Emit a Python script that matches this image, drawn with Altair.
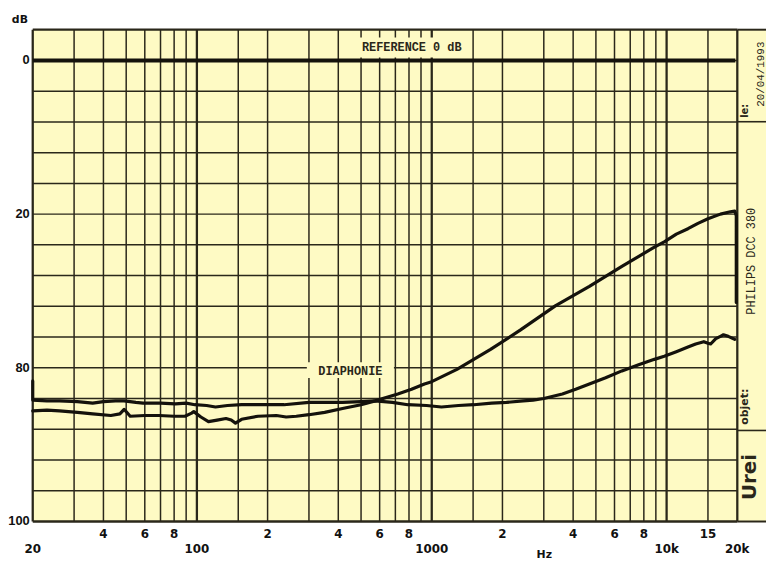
import altair as alt
import pandas as pd

# ---------------- data ----------------
grid_freqs = [20, 30, 40, 50, 60, 70, 80, 90, 100, 150, 200, 300, 400, 500, 600, 700,
              800, 900, 1000, 1500, 2000, 3000, 4000, 5000, 6000, 7000, 8000, 9000,
              10000, 15000, 20000]
grid_levels = [-4, 0, 4, 8, 12, 16, 20, 24, 28, 32, 36, 40, 44, 48, 52, 56, 60]
decade_freqs = [100, 1000, 10000]

minor_label_freqs = [40, 60, 80, 200, 400, 600, 800, 2000, 4000, 6000, 8000, 15000]
minor_label_text = ["4", "6", "8", "2", "4", "6", "8", "2", "4", "6", "8", "15"]
major_label_freqs = [20, 100, 1000, 10000, 20000]
major_label_text = ["20", "100", "1000", "10k", "20k"]
y_label_values = [0, 20, 40, 60]
y_label_text = ["0", "20", "80", "100"]
reference_level = [0]

curve_a_freq = [20, 20, 23, 26, 31, 36, 40, 45, 49, 55, 59, 70, 81, 90, 98, 110, 120, 135,
                155, 190, 235, 300, 417, 500, 574, 680, 790, 950, 1100, 1300, 1510, 1800,
                2080, 2450, 2700, 3000, 3600, 4100, 4690, 5500, 6450, 7600, 8870, 9770,
                11000, 12330, 13300, 14400, 15000, 15400, 16200, 16950, 17460, 18300, 19500]
curve_a_db = [41.7, 44.2, 44.3, 44.3, 44.4, 44.6, 44.4, 44.3, 44.3, 44.5, 44.6, 44.6, 44.7,
              44.6, 44.8, 44.9, 45.1, 44.9, 44.8, 44.8, 44.8, 44.5, 44.5, 44.4, 44.3, 44.5,
              44.8, 44.9, 45.1, 44.9, 44.8, 44.6, 44.5, 44.3, 44.2, 44.0, 43.4, 42.8, 42.1,
              41.3, 40.4, 39.6, 38.9, 38.5, 37.9, 37.3, 36.9, 36.6, 36.8, 36.9, 36.2, 35.9,
              35.7, 35.9, 36.3]

curve_b_freq = [20, 23, 26, 31, 36, 43, 47, 49, 52, 60, 69, 80, 89, 95, 97, 104, 112, 122,
                133, 140, 146, 155, 182, 218, 240, 265, 300, 350, 417, 500, 574, 650, 717,
                820, 931, 1000, 1280, 1780, 2380, 3370, 4690, 6450, 8870, 9770, 11000, 12330,
                13600, 15000, 16950, 18690, 19500, 19800, 19800]
curve_b_db = [45.6, 45.5, 45.6, 45.8, 46.0, 46.2, 46.0, 45.4, 46.3, 46.2, 46.2, 46.3, 46.3,
              45.9, 45.7, 46.4, 47.0, 46.8, 46.6, 46.8, 47.2, 46.7, 46.3, 46.2, 46.4, 46.3,
              46.1, 45.8, 45.3, 44.8, 44.3, 43.8, 43.4, 42.8, 42.1, 41.8, 40.2, 37.6, 35.1,
              31.9, 29.4, 26.8, 24.3, 23.6, 22.6, 21.9, 21.2, 20.6, 20.0, 19.7, 19.6, 20.2, 31.5]

# ---------------- styling ----------------
PAPER = "#fefac4"
INK = "#2a271a"
PEN = "#14120c"
W, H = 712, 497
SANS = "DejaVu Sans"
NARROW = "Liberation Sans"
MONO = "Liberation Mono"

x_scale = alt.Scale(type="log", domain=[20, 20000], nice=False)
y_scale = alt.Scale(domain=[-4, 60], reverse=True, nice=False, zero=False)

one = pd.DataFrame({"k": [0]})
grid_x_df = pd.DataFrame({"f": grid_freqs})
grid_y_df = pd.DataFrame({"v": grid_levels})
ref_df = pd.DataFrame({"v": reference_level})

rows = []
for i, (f, v) in enumerate(zip(curve_a_freq, curve_a_db)):
    rows.append({"f": f, "v": v, "s": "A", "i": i})
for i, (f, v) in enumerate(zip(curve_b_freq, curve_b_db)):
    rows.append({"f": f, "v": v, "s": "B", "i": i})
curves_df = pd.DataFrame(rows)

minor_df = pd.DataFrame({"f": minor_label_freqs, "t": minor_label_text})
major_df = pd.DataFrame({"f": major_label_freqs, "t": major_label_text})
ylab_df = pd.DataFrame({"v": y_label_values, "t": y_label_text})

decade_test = " || ".join(f"datum.f == {d}" for d in decade_freqs)
edge_test = "datum.f == 20 || datum.f == 20000"

# right-hand side panel background
panel_bg = alt.Chart(one).mark_rect(fill=PAPER).encode(
    x=alt.value(W), x2=alt.value(W + 29), y=alt.value(0), y2=alt.value(H)
)

vgrid = alt.Chart(grid_x_df).mark_rule(color=INK).encode(
    x=alt.X("f:Q", scale=x_scale, axis=None),
    y=alt.value(0), y2=alt.value(H),
    strokeWidth=alt.condition(decade_test + " || " + edge_test, alt.value(2.3), alt.value(1.5)),
)

hgrid = alt.Chart(grid_y_df).mark_rule(color=INK).encode(
    y=alt.Y("v:Q", scale=y_scale, axis=None),
    x=alt.value(0), x2=alt.value(W),
    strokeWidth=alt.condition("datum.v == -4 || datum.v == 60", alt.value(2.3), alt.value(1.5)),
)

# panel frame lines
panel_lines = alt.layer(
    alt.Chart(one).mark_rule(color=INK, strokeWidth=2).encode(
        x=alt.value(W), x2=alt.value(W + 29), y=alt.value(0)),
    alt.Chart(one).mark_rule(color=INK, strokeWidth=2).encode(
        x=alt.value(W), x2=alt.value(W + 29), y=alt.value(H)),
    alt.Chart(one).mark_rule(color=INK, strokeWidth=1.6).encode(
        x=alt.value(W), x2=alt.value(W + 29), y=alt.value(93)),
    alt.Chart(one).mark_rule(color=INK, strokeWidth=1.6).encode(
        x=alt.value(W), x2=alt.value(W + 29), y=alt.value(405)),
)

ref_line = alt.Chart(ref_df).mark_rule(color=PEN, strokeWidth=4).encode(
    y=alt.Y("v:Q", scale=y_scale, axis=None), x=alt.value(0), x2=alt.value(W - 2)
)

# label boxes hiding the grid
ref_box = alt.Chart(one).mark_rect(fill=PAPER).encode(
    x=alt.value(324), x2=alt.value(441), y=alt.value(8), y2=alt.value(28))
ref_text = alt.Chart(one).mark_text(font=MONO, fontSize=12, fontWeight="bold", color=INK).encode(
    x=alt.value(383), y=alt.value(18), text=alt.value("REFERENCE 0 dB"))
dia_box = alt.Chart(one).mark_rect(fill=PAPER).encode(
    x=alt.value(277), x2=alt.value(365), y=alt.value(336), y2=alt.value(352))
dia_text = alt.Chart(one).mark_text(font=MONO, fontSize=12, fontWeight="bold", color=INK).encode(
    x=alt.value(321), y=alt.value(345), text=alt.value("DIAPHONIE"))

curves = alt.Chart(curves_df).mark_line(color=PEN, strokeWidth=3.2, strokeJoin="round",
                                         strokeCap="round").encode(
    x=alt.X("f:Q", scale=x_scale, axis=None),
    y=alt.Y("v:Q", scale=y_scale, axis=None),
    detail="s:N",
    order="i:Q",
)

minor_labels = alt.Chart(minor_df).mark_text(font=SANS, fontSize=12, fontWeight="bold",
                                             color="#111").encode(
    x=alt.X("f:Q", scale=x_scale, axis=None), y=alt.value(510), text="t:N")
major_labels = alt.Chart(major_df).mark_text(font=SANS, fontSize=12, fontWeight="bold",
                                             color="#111").encode(
    x=alt.X("f:Q", scale=x_scale, axis=None), y=alt.value(525), text="t:N")
y_labels = alt.Chart(ylab_df).mark_text(font=NARROW, fontSize=13, fontWeight="bold",
                                        color="#111", align="right").encode(
    y=alt.Y("v:Q", scale=y_scale, axis=None), x=alt.value(-3), text="t:N")

misc_text = alt.layer(
    alt.Chart(one).mark_text(font=SANS, fontSize=11, fontWeight="bold", color="#111").encode(
        x=alt.value(-13), y=alt.value(-10), text=alt.value("dB")),
    alt.Chart(one).mark_text(font=SANS, fontSize=11, fontWeight="bold", color="#111",
                             baseline="bottom").encode(
        x=alt.value(517), y=alt.value(536), text=alt.value("Hz")),
    alt.Chart(one).mark_text(font=SANS, fontSize=10, fontWeight="bold", color=INK, angle=270).encode(
        x=alt.value(720), y=alt.value(82), text=alt.value("le:")),
    alt.Chart(one).mark_text(font=MONO, fontSize=11, color=INK, angle=270).encode(
        x=alt.value(736), y=alt.value(45), text=alt.value("20/04/1993")),
    alt.Chart(one).mark_text(font=MONO, fontSize=12, color=INK, angle=270).encode(
        x=alt.value(726), y=alt.value(234), text=alt.value("PHILIPS DCC 380")),
    alt.Chart(one).mark_text(font=SANS, fontSize=11, fontWeight="bold", color=INK, angle=270).encode(
        x=alt.value(720), y=alt.value(381), text=alt.value("objet:")),
    alt.Chart(one).mark_text(font=SANS, fontSize=20, fontWeight="bold", color=INK, angle=270).encode(
        x=alt.value(725), y=alt.value(452), text=alt.value("Urei")),
)

chart = alt.layer(
    panel_bg, vgrid, hgrid, panel_lines, ref_box, dia_box, ref_line, ref_text, dia_text,
    curves, minor_labels, major_labels, y_labels, misc_text,
).properties(
    width=W, height=H,
    autosize=alt.AutoSizeParams(type="none"),
    padding={"left": 25, "top": 19, "right": 29, "bottom": 39},
    background="white",
).configure_view(fill=PAPER, stroke=None)

chart.save("out.html", embed_options={"renderer": "svg", "actions": False})
